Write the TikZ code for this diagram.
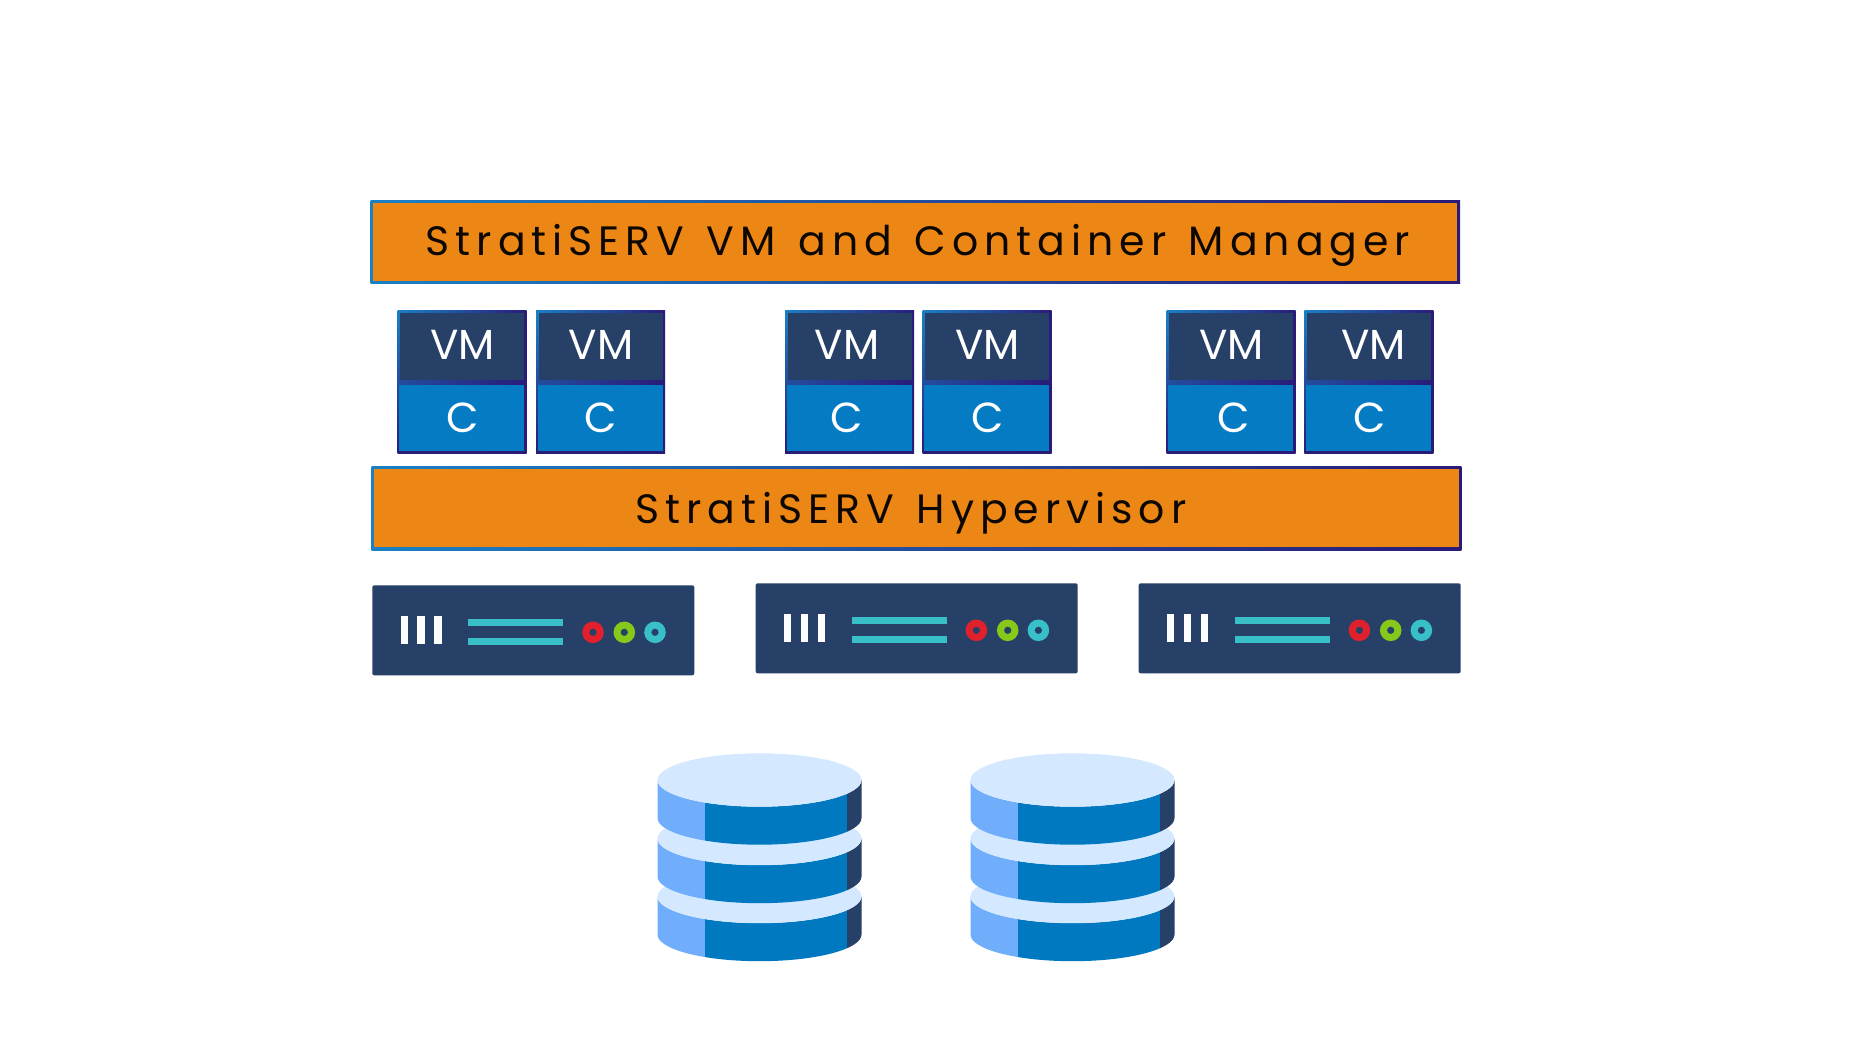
\documentclass[tikz,border=0pt]{standalone}
\usepackage{fontspec}
\usetikzlibrary{shadings}
\setmainfont{Poppins}
\newfontfamily\titlefont[LetterSpace=14.6,WordSpace=1.33]{Poppins}
\newfontfamily\hyperfont[LetterSpace=14.6,WordSpace=1.33]{Poppins}
\definecolor{edgeA}{HTML}{1B80C4}
\definecolor{edgeB}{HTML}{2A1B78}
\definecolor{barorange}{HTML}{EC8716}
\definecolor{navy}{HTML}{274068}
\definecolor{cblue}{HTML}{047BC2}
\definecolor{srvteal}{HTML}{38BFC8}
\definecolor{srvred}{HTML}{E0212C}
\definecolor{srvgreen}{HTML}{86C91A}
\definecolor{dbtop}{HTML}{D4E9FF}
\definecolor{dblight}{HTML}{70AEFC}
\definecolor{dbblue}{HTML}{0079C1}
\tikzset{
  x=1pt,y=-1pt,
  edgeshade/.style={upper left=edgeA,upper right=edgeB,lower left=edgeB,lower right=edgeB},
  baredge/.style={left color=edgeA,right color=edgeB},
  bartext/.style={inner sep=0,text=black!95!barorange},
  vmtext/.style={inner sep=0,font=\fontsize{42}{42}\selectfont,text=white},
}
% x-left, x-right, y-top, y-bottom, name, text, text x, text baseline y, font
\newcommand{\orangebar}[9]{%
  \shade[baredge] (#1,#3) rectangle (#2,#4);
  \fill[barorange] (#1+2.6,#3+2.6) rectangle (#2-2.6,#4-2.6);
  \node[bartext,anchor=base,font=#9\fontsize{41}{41}\selectfont] (#5) at (#7,#8) {#6};
}
% x-left, name, VM text centre, C text centre
\newcommand{\vmbox}[4]{%
  \shade[edgeshade] (#1,310.7) rectangle (#1+129,453.3);
  \fill[navy] (#1+2.6,313.3) rectangle (#1+126.6,380);
  \fill[cblue] (#1+1.5,384.5) rectangle (#1+126.6,450.9);
  \node[vmtext,anchor=base] (vm#2) at (#3+1,359.5) {VM};
  \node[vmtext,anchor=base] (c#2) at (#4+1,432.5) {C};
}
% dx, dy, name
\newcommand{\server}[3]{%
  \begin{scope}[shift={(#1,#2)}]
    \fill[navy,rounded corners=2] (372.3,585.3) rectangle (694.3,675.3);
    \foreach \bx in {400.7,417.4,434.3} \fill[white] (\bx,616) rectangle +(7.2,28.3);
    \fill[srvteal] (468.3,619) rectangle (563.3,626);
    \fill[srvteal] (468.3,638.3) rectangle (563.3,645.3);
    \fill[srvred] (593,632.3) circle (10.8);
    \fill[srvgreen] (624.3,632.3) circle (10.8);
    \fill[srvteal] (655,632.3) circle (10.8);
    \fill[navy] (593,632.3) circle (3.6);
    \fill[navy] (624.3,632.3) circle (3.6);
    \fill[navy] (655,632.3) circle (3.6);
  \end{scope}
}
% y-centre of the top ellipse
\newcommand{\dblayer}[1]{%
  \begin{scope}
    \clip (657.5,#1) arc[start angle=180,end angle=0,x radius=102,y radius=26.7]
      -- (861.5,#1+38) arc[start angle=0,end angle=180,x radius=102,y radius=26.7] -- cycle;
    \fill[dblight] (650,#1-30) rectangle (705.3,#1+80);
    \fill[dbblue] (705.3,#1-30) rectangle (847.3,#1+80);
    \fill[navy] (847.3,#1-30) rectangle (870,#1+80);
  \end{scope}
  \fill[dbtop] (759.5,#1) ellipse[x radius=102,y radius=26.7];
}
\newcommand{\database}[1]{%
  \begin{scope}[shift={(#1,0)}]
    \dblayer{896.5}
    \dblayer{838.5}
    \dblayer{780}
  \end{scope}
}
\begin{document}
\begin{tikzpicture}
\useasboundingbox (0,0) rectangle (1875,1054);
\fill[white] (0,0) rectangle (1875,1054);
\orangebar{370.5}{1460}{200.5}{283.7}{manager}{StratiSERV VM and Container Manager}{918}{255.5}{\titlefont}
\orangebar{371.7}{1461.3}{466.7}{550}{hyper}{StratiSERV Hypervisor}{911}{523.5}{\hyperfont}
\vmbox{397.7}{1}{461.7}{461.7}
\vmbox{536}{2}{600}{600}
\vmbox{785}{3}{846}{846}
\vmbox{922.7}{4}{986.7}{986.7}
\vmbox{1166.7}{5}{1230.7}{1232.7}
\vmbox{1304.3}{6}{1372.3}{1368.3}
\server{0}{0}{s1}
\server{383.4}{-2}{s2}
\server{766.4}{-2}{s3}
\database{0}
\database{313}
\end{tikzpicture}
\end{document}
